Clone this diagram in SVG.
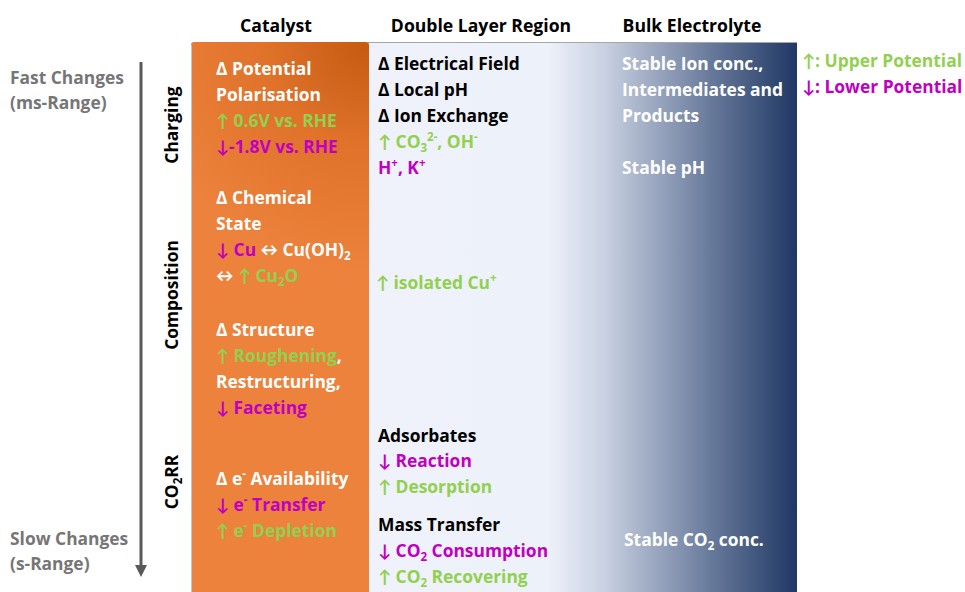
<svg xmlns="http://www.w3.org/2000/svg" width="965" height="592" viewBox="0 0 965 592">
  <defs>
    <radialGradient id="orangeGrad" cx="368" cy="42" r="230" gradientUnits="userSpaceOnUse">
      <stop offset="0" stop-color="#c55a11"/>
      <stop offset="0.45" stop-color="#e0722a"/>
      <stop offset="1" stop-color="#ec823c"/>
    </radialGradient>
    <linearGradient id="blueGrad" x1="368" y1="0" x2="797" y2="0" gradientUnits="userSpaceOnUse">
      <stop offset="0" stop-color="#eff2fb"/>
      <stop offset="0.42" stop-color="#edf1f9"/>
      <stop offset="0.55" stop-color="#c9d1e2"/>
      <stop offset="0.78" stop-color="#6f80a0"/>
      <stop offset="1" stop-color="#1f3864"/>
    </linearGradient>
    <marker id="arrowDown" viewBox="0 0 10 10" refX="5" refY="5" markerWidth="4" markerHeight="4" orient="auto">
      <path d="M0,0 L10,5 L0,10 Z" fill="#595959"/>
    </marker>
  </defs>
  <style>
    text { font-family: "Open Sans", Lato, "DejaVu Sans", sans-serif; font-weight: bold; font-size: 17.4px; }
    .hdr { fill: #000; text-anchor: middle; font-size: 17.6px; }
    .w { fill: #ffffff; }
    .k { fill: #000000; }
    .g { fill: #92d050; }
    .m { fill: #c000c0; }
    .gray { fill: #767676; }
    .sub { font-size: 11.5px; }
  </style>

  <rect width="965" height="592" fill="#ffffff"/>

  <!-- column headers -->
  <g id="headers">
    <text class="hdr" x="276" y="32">Catalyst</text>
    <text class="hdr" x="481" y="32">Double Layer Region</text>
    <text class="hdr" x="692" y="32">Bulk Electrolyte</text>
  </g>

  <!-- background panels -->
  <g id="panels">
    <rect x="368" y="42" width="429" height="552" fill="url(#blueGrad)"/>
    <line x1="368" y1="42.5" x2="797" y2="42.5" stroke="#a6a6a6" stroke-width="1"/>
    <rect x="191" y="42" width="178" height="560" rx="3" fill="url(#orangeGrad)"/>
    <line x1="191.5" y1="45" x2="191.5" y2="592" stroke="#b4c7e7" stroke-width="1"/>
  </g>

  <!-- time axis -->
  <g id="connectors">
    <line x1="141" y1="62" x2="141" y2="571" stroke="#595959" stroke-width="3" marker-end="url(#arrowDown)"/>
  </g>

  <g id="time-labels">
    <text class="gray" x="10" y="84">Fast Changes</text>
    <text class="gray" x="10" y="109">(ms-Range)</text>
    <text class="gray" x="10" y="545">Slow Changes</text>
    <text class="gray" x="10" y="570">(s-Range)</text>
  </g>

  <g id="phase-labels">
    <text class="k" text-anchor="middle" transform="translate(178,125) rotate(-90)">Charging</text>
    <text class="k" text-anchor="middle" transform="translate(178,295) rotate(-90)">Composition</text>
    <text class="k" text-anchor="middle" transform="translate(178,482) rotate(-90)">CO<tspan class="sub" dy="4">2</tspan><tspan dy="-4">RR</tspan></text>
  </g>

  <!-- catalyst column -->
  <g id="catalyst-charging">
    <text class="w" x="216" y="75">Δ Potential</text>
    <text class="w" x="216" y="101">Polarisation</text>
    <text class="g" x="216" y="127">↑ 0.6V vs. RHE</text>
    <text class="m" x="216" y="153">↓-1.8V vs. RHE</text>
  </g>
  <g id="catalyst-chemical">
    <text class="w" x="216" y="204">Δ Chemical</text>
    <text class="w" x="216" y="230">State</text>
    <text x="216" y="256"><tspan class="m">↓ Cu</tspan><tspan class="w"> ↔ Cu(OH)</tspan><tspan class="w sub" dy="4">2</tspan></text>
    <text x="216" y="282"><tspan class="w">↔ </tspan><tspan class="g">↑ Cu</tspan><tspan class="g sub" dy="4">2</tspan><tspan class="g" dy="-4">O</tspan></text>
  </g>
  <g id="catalyst-structure">
    <text class="w" x="216" y="336">Δ Structure</text>
    <text x="216" y="362"><tspan class="g">↑ Roughening</tspan><tspan class="w">,</tspan></text>
    <text class="w" x="216" y="388">Restructuring,</text>
    <text class="m" x="216" y="414">↓ Faceting</text>
  </g>
  <g id="catalyst-electrons">
    <text class="w" x="216" y="485">Δ e<tspan class="sub" dy="-7">-</tspan><tspan dy="7"> Availability</tspan></text>
    <text class="m" x="216" y="511">↓ e<tspan class="sub" dy="-7">-</tspan><tspan dy="7"> Transfer</tspan></text>
    <text class="g" x="216" y="537">↑ e<tspan class="sub" dy="-7">-</tspan><tspan dy="7"> Depletion</tspan></text>
  </g>

  <!-- double layer column -->
  <g id="layer-charging">
    <text class="k" x="378" y="70">Δ Electrical Field</text>
    <text class="k" x="378" y="96">Δ Local pH</text>
    <text class="k" x="378" y="122">Δ Ion Exchange</text>
    <text class="g" x="378" y="148">↑ CO<tspan class="sub" dy="4">3</tspan><tspan class="sub" dy="-11">2-</tspan><tspan dy="7">, OH</tspan><tspan class="sub" dy="-7">-</tspan></text>
    <text class="m" x="378" y="174">H<tspan class="sub" dy="-7">+</tspan><tspan dy="7">, K</tspan><tspan class="sub" dy="-7">+</tspan></text>
  </g>
  <g id="layer-composition">
    <text class="g" x="376" y="289">↑ isolated Cu<tspan class="sub" dy="-7">+</tspan></text>
  </g>
  <g id="layer-reaction">
    <text class="k" x="378" y="442">Adsorbates</text>
    <text class="m" x="378" y="467">↓ Reaction</text>
    <text class="g" x="378" y="493">↑ Desorption</text>
    <text class="k" x="378" y="531">Mass Transfer</text>
    <text class="m" x="378" y="557">↓ CO<tspan class="sub" dy="4">2</tspan><tspan dy="-4"> Consumption</tspan></text>
    <text class="g" x="378" y="583">↑ CO<tspan class="sub" dy="4">2</tspan><tspan dy="-4"> Recovering</tspan></text>
  </g>

  <!-- bulk electrolyte column -->
  <g id="bulk">
    <text class="w" x="622" y="70">Stable Ion conc.,</text>
    <text class="w" x="622" y="96">Intermediates and</text>
    <text class="w" x="622" y="122">Products</text>
    <text class="w" x="622" y="174">Stable pH</text>
    <text class="w" x="624" y="546">Stable CO<tspan class="sub" dy="4">2</tspan><tspan dy="-4"> conc.</tspan></text>
  </g>

  <!-- legend -->
  <g id="legend">
    <text class="g" x="802" y="67">↑: Upper Potential</text>
    <text class="m" x="802" y="93">↓: Lower Potential</text>
  </g>
</svg>
